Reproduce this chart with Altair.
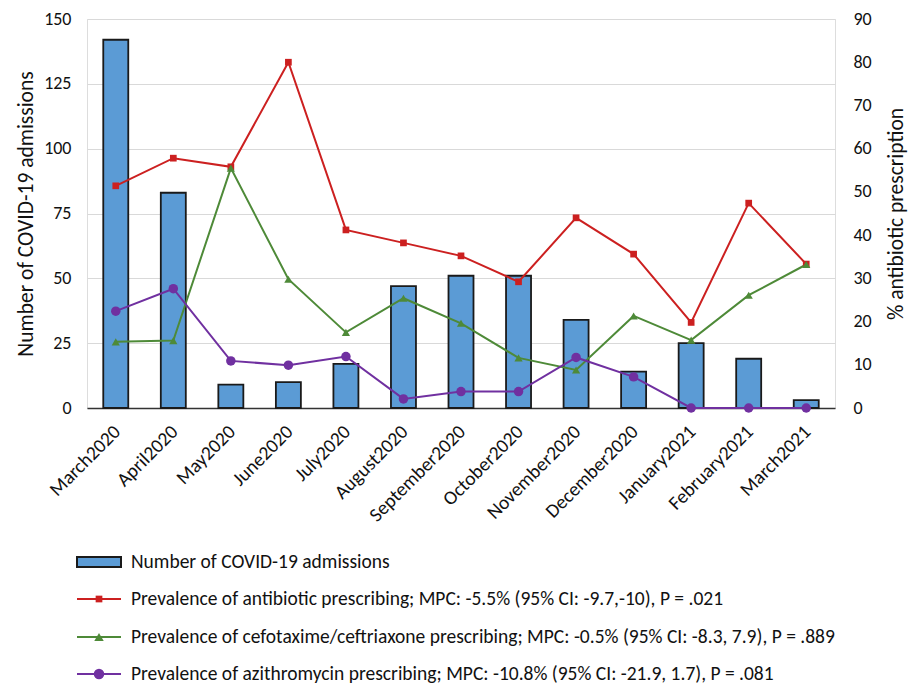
import altair as alt
import pandas as pd

months = ["March2020", "April2020", "May2020", "June2020", "July2020", "August2020",
          "September2020", "October2020", "November2020", "December2020",
          "January2021", "February2021", "March2021"]
admissions = [142, 83, 9, 10, 17, 47, 51, 51, 34, 14, 25, 19, 3]
antibiotic = [51.4, 57.8, 55.8, 80.0, 41.2, 38.2, 35.2, 29.2, 44.0, 35.6, 19.8, 47.4, 33.3]
cefotaxime = [15.3, 15.6, 55.5, 29.8, 17.5, 25.4, 19.6, 11.6, 8.8, 21.3, 15.7, 26.1, 33.2]
azithromycin = [22.4, 27.6, 10.9, 9.9, 11.9, 2.1, 3.8, 3.8, 11.7, 7.2, 0, 0, 0]

series_names = ["Antibiotic", "Cefotaxime/ceftriaxone", "Azithromycin"]
legend_labels = [
    "Number of COVID-19 admissions",
    "Prevalence of antibiotic prescribing; MPC: -5.5% (95% CI: -9.7,-10), P = .021",
    "Prevalence of cefotaxime/ceftriaxone prescribing; MPC: -0.5% (95% CI: -8.3, 7.9), P = .889",
    "Prevalence of azithromycin prescribing; MPC: -10.8% (95% CI: -21.9, 1.7), P = .081",
]
left_ticks = [0, 25, 50, 75, 100, 125, 150]
right_ticks = [0, 10, 20, 30, 40, 50, 60, 70, 80, 90]

FONT = "Carlito, Lato, sans-serif"
colors = ["#CC2020", "#4E8A38", "#7030A0"]
shapes = ["square", "triangle-up", "circle"]
sizes = [45, 90, 110]

df_bar = pd.DataFrame({"month": months, "admissions": admissions})
rows = []
for name, vals in zip(series_names, [antibiotic, cefotaxime, azithromycin]):
    for m, v in zip(months, vals):
        rows.append({"month": m, "series": name, "value": v})
df_lines = pd.DataFrame(rows)

xenc = alt.X("month:N", sort=months, title=None,
             scale=alt.Scale(paddingInner=0, paddingOuter=0),
             axis=alt.Axis(labelAngle=-45, labelAlign="right", labelBaseline="top",
                           labelFontSize=19.5, labelFont=FONT, labelColor="#111",
                           ticks=False, domain=True, domainColor="#333", domainWidth=1.5,
                           labelPadding=14, labelOffset=-5, grid=False))

bars = alt.Chart(df_bar).mark_bar(size=25, color="#5B9BD5", stroke="#1a1a1a", strokeWidth=1.8).encode(
    x=xenc,
    y=alt.Y("admissions:Q", scale=alt.Scale(domain=[0, 150], nice=False),
            axis=alt.Axis(values=left_ticks, grid=True, gridColor="#d9d9d9", gridWidth=1.2,
                          domain=False, ticks=False, labelFontSize=18, labelFont=FONT,
                          labelColor="#111", labelPadding=16,
                          title="Number of COVID-19 admissions", titleFontSize=21.5,
                          titleFont=FONT, titleFontWeight="normal", titleColor="#111",
                          titlePadding=6)),
)

yline = alt.Y("value:Q", scale=alt.Scale(domain=[0, 90], nice=False),
              axis=alt.Axis(orient="right", values=right_ticks, grid=False, domain=False,
                            ticks=False, labelFontSize=18, labelFont=FONT, labelColor="#111",
                            labelPadding=18, title="% antibiotic prescription",
                            titleAngle=270, titleBaseline="top",
                            titleFontSize=21.5, titleFont=FONT, titleFontWeight="normal",
                            titleColor="#111", titlePadding=14))
cscale = alt.Scale(domain=series_names, range=colors)
sscale = alt.Scale(domain=series_names, range=shapes)
zscale = alt.Scale(domain=series_names, range=sizes)

lines = alt.Chart(df_lines).mark_line(strokeWidth=2).encode(
    x=xenc, y=yline,
    color=alt.Color("series:N", scale=cscale, legend=None),
    detail="series:N",
)
points = alt.Chart(df_lines).mark_point(filled=True, opacity=1).encode(
    x=xenc, y=yline,
    color=alt.Color("series:N", scale=cscale, legend=None),
    shape=alt.Shape("series:N", scale=sscale, legend=None),
    size=alt.Size("series:N", scale=zscale, legend=None),
)
line_layer = alt.layer(lines, points)

# manual legend below the plot
leg_y = [543, 580, 618, 655]
leg_df = pd.DataFrame({"label": legend_labels})
legend_layers = []
swatch = alt.Chart(leg_df).transform_filter(alt.datum.label == legend_labels[0]).mark_rect(
    color="#5B9BD5", stroke="#1a1a1a", strokeWidth=2).encode(
    x=alt.value(-10), x2=alt.value(34), y=alt.value(leg_y[0] - 5), y2=alt.value(leg_y[0] + 5))
legend_layers.append(swatch)
for i in range(3):
    lab = legend_labels[i + 1]
    rule = alt.Chart(leg_df).transform_filter(alt.datum.label == lab).mark_rule(
        color=colors[i], strokeWidth=2).encode(
        x=alt.value(-10), x2=alt.value(34), y=alt.value(leg_y[i + 1]))
    mk = alt.Chart(leg_df).transform_filter(alt.datum.label == lab).mark_point(
        filled=True, opacity=1, color=colors[i], shape=shapes[i], size=sizes[i]).encode(
        x=alt.value(12), y=alt.value(leg_y[i + 1]))
    legend_layers += [rule, mk]
for i, lab in enumerate(legend_labels):
    t = alt.Chart(leg_df).transform_filter(alt.datum.label == lab).mark_text(
        align="left", baseline="middle", font=FONT, fontSize=19.5, color="#111").encode(
        x=alt.value(44), y=alt.value(leg_y[i]), text="label:N")
    legend_layers.append(t)

chart = alt.layer(bars, line_layer, *legend_layers).resolve_scale(y="independent").properties(
    width=748, height=389,
    autosize=alt.AutoSizeParams(type="none"),
    padding={"left": 87, "top": 19, "right": 74, "bottom": 276},
).configure_view(stroke=None).configure(background="white")

chart.save("out.html", embed_options={"renderer": "svg", "actions": False})
